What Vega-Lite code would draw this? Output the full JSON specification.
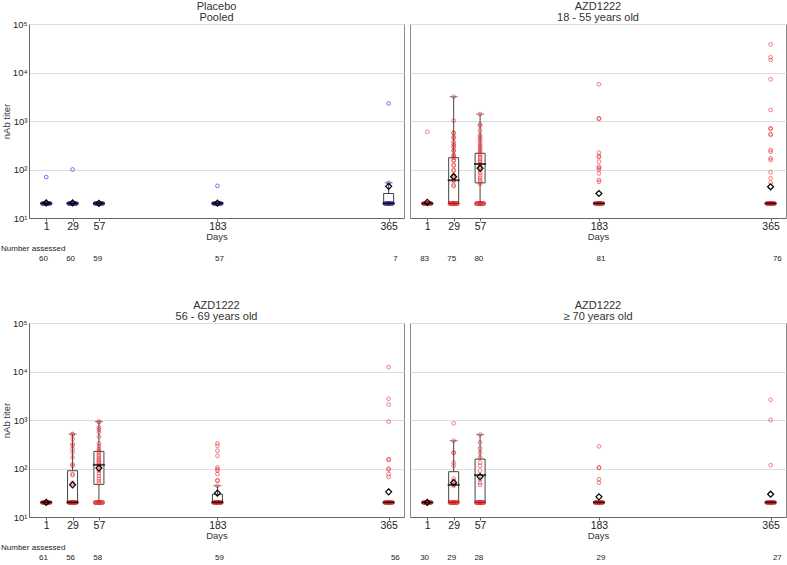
{
"$schema":"https://vega.github.io/schema/vega-lite/v6.json",
"padding":{"left":0,"top":0,"right":2,"bottom":0},
"background":"white",
"config":{
 "font":"Liberation Sans",
 "view":{"stroke":"#8a8a8a"},
 "axis":{"labelColor":"#222","titleColor":"#333","titleFontWeight":"normal","domainColor":"#666","tickColor":"#666","gridColor":"#dddddd","labelFontSize":10,"titleFontSize":9.5},
 "title":{"fontSize":11,"fontWeight":"normal","color":"#333","offset":1,"lineHeight":11}
},
"datasets":{
"sum":[
{"p":1,"d":1,"q1":20,"med":20,"q3":20,"lw":20,"uw":20,"gm":20.5},
{"p":1,"d":29,"q1":20,"med":20,"q3":20,"lw":20,"uw":20,"gm":20.5},
{"p":1,"d":57,"q1":20,"med":20,"q3":20,"lw":20,"uw":20,"gm":20},
{"p":1,"d":183,"q1":20,"med":20,"q3":20,"lw":20,"uw":20,"gm":20.3},
{"p":1,"d":365,"q1":20,"med":20,"q3":32,"lw":20,"uw":53,"gm":45},
{"p":2,"d":1,"q1":20,"med":20,"q3":20,"lw":20,"uw":20,"gm":21},
{"p":2,"d":29,"q1":20,"med":60,"q3":175,"lw":20,"uw":3170,"gm":71},
{"p":2,"d":57,"q1":53,"med":130,"q3":216,"lw":20,"uw":1390,"gm":106},
{"p":2,"d":183,"q1":20,"med":20,"q3":20,"lw":20,"uw":20,"gm":32},
{"p":2,"d":365,"q1":20,"med":20,"q3":20,"lw":20,"uw":20,"gm":44},
{"p":3,"d":1,"q1":20,"med":20,"q3":20,"lw":20,"uw":20,"gm":20},
{"p":3,"d":29,"q1":20,"med":20,"q3":90,"lw":20,"uw":515,"gm":46},
{"p":3,"d":57,"q1":47,"med":119,"q3":225,"lw":20,"uw":927,"gm":102},
{"p":3,"d":183,"q1":20,"med":20,"q3":29.5,"lw":20,"uw":44,"gm":31},
{"p":3,"d":365,"q1":20,"med":20,"q3":20,"lw":20,"uw":20,"gm":33},
{"p":4,"d":1,"q1":20,"med":20,"q3":20,"lw":20,"uw":20,"gm":20},
{"p":4,"d":29,"q1":20,"med":46,"q3":86,"lw":20,"uw":374,"gm":51},
{"p":4,"d":57,"q1":20,"med":73,"q3":156,"lw":20,"uw":499,"gm":68},
{"p":4,"d":183,"q1":20,"med":20,"q3":20,"lw":20,"uw":20,"gm":26},
{"p":4,"d":365,"q1":20,"med":20,"q3":20,"lw":20,"uw":20,"gm":29.5}
],
"cnt":[
{"p":1,"d":1,"n":60},{"p":1,"d":29,"n":60},{"p":1,"d":57,"n":59},{"p":1,"d":183,"n":57},{"p":1,"d":365,"n":7},
{"p":2,"d":1,"n":83},{"p":2,"d":29,"n":75},{"p":2,"d":57,"n":80},{"p":2,"d":183,"n":81},{"p":2,"d":365,"n":76},
{"p":3,"d":1,"n":61},{"p":3,"d":29,"n":56},{"p":3,"d":57,"n":58},{"p":3,"d":183,"n":59},{"p":3,"d":365,"n":56},
{"p":4,"d":1,"n":30},{"p":4,"d":29,"n":29},{"p":4,"d":57,"n":28},{"p":4,"d":183,"n":29},{"p":4,"d":365,"n":27}
],
"pts":[
{"p":1,"d":1,"v":20},{"p":1,"d":1,"v":70},
{"p":1,"d":29,"v":20},{"p":1,"d":29,"v":100},
{"p":1,"d":57,"v":20},
{"p":1,"d":183,"v":20},{"p":1,"d":183,"v":46},
{"p":1,"d":365,"v":20},{"p":1,"d":365,"v":53},{"p":1,"d":365,"v":2300},
{"p":2,"d":1,"v":20},{"p":2,"d":1,"v":600},
{"p":2,"d":29,"v":20},{"p":2,"d":29,"v":3170},{"p":2,"d":29,"v":1014},{"p":2,"d":29,"v":574},{"p":2,"d":29,"v":560},{"p":2,"d":29,"v":474},{"p":2,"d":29,"v":450},{"p":2,"d":29,"v":374},{"p":2,"d":29,"v":340},{"p":2,"d":29,"v":310},{"p":2,"d":29,"v":290},{"p":2,"d":29,"v":252},{"p":2,"d":29,"v":240},{"p":2,"d":29,"v":199},{"p":2,"d":29,"v":190},{"p":2,"d":29,"v":175},{"p":2,"d":29,"v":157},{"p":2,"d":29,"v":150},{"p":2,"d":29,"v":124},{"p":2,"d":29,"v":120},{"p":2,"d":29,"v":98},{"p":2,"d":29,"v":95},{"p":2,"d":29,"v":77},{"p":2,"d":29,"v":70},{"p":2,"d":29,"v":61},{"p":2,"d":29,"v":58},{"p":2,"d":29,"v":48},{"p":2,"d":29,"v":45},
{"p":2,"d":57,"v":20},{"p":2,"d":57,"v":1390},{"p":2,"d":57,"v":855},{"p":2,"d":57,"v":800},{"p":2,"d":57,"v":640},{"p":2,"d":57,"v":520},{"p":2,"d":57,"v":470},{"p":2,"d":57,"v":430},{"p":2,"d":57,"v":380},{"p":2,"d":57,"v":340},{"p":2,"d":57,"v":310},{"p":2,"d":57,"v":280},{"p":2,"d":57,"v":260},{"p":2,"d":57,"v":240},{"p":2,"d":57,"v":215},{"p":2,"d":57,"v":200},{"p":2,"d":57,"v":180},{"p":2,"d":57,"v":165},{"p":2,"d":57,"v":150},{"p":2,"d":57,"v":140},{"p":2,"d":57,"v":130},{"p":2,"d":57,"v":125},{"p":2,"d":57,"v":115},{"p":2,"d":57,"v":105},{"p":2,"d":57,"v":95},{"p":2,"d":57,"v":85},{"p":2,"d":57,"v":75},{"p":2,"d":57,"v":68},{"p":2,"d":57,"v":60},{"p":2,"d":57,"v":55},{"p":2,"d":57,"v":50},
{"p":2,"d":183,"v":20},{"p":2,"d":183,"v":5710},{"p":2,"d":183,"v":1137},{"p":2,"d":183,"v":1100},{"p":2,"d":183,"v":222},{"p":2,"d":183,"v":190},{"p":2,"d":183,"v":180},{"p":2,"d":183,"v":145},{"p":2,"d":183,"v":114},{"p":2,"d":183,"v":108},{"p":2,"d":183,"v":100},{"p":2,"d":183,"v":83},{"p":2,"d":183,"v":61},{"p":2,"d":183,"v":56},
{"p":2,"d":365,"v":20},{"p":2,"d":365,"v":38000},{"p":2,"d":365,"v":20600},{"p":2,"d":365,"v":18100},{"p":2,"d":365,"v":7240},{"p":2,"d":365,"v":1690},{"p":2,"d":365,"v":706},{"p":2,"d":365,"v":690},{"p":2,"d":365,"v":540},{"p":2,"d":365,"v":520},{"p":2,"d":365,"v":252},{"p":2,"d":365,"v":233},{"p":2,"d":365,"v":170},{"p":2,"d":365,"v":157},{"p":2,"d":365,"v":87.5},{"p":2,"d":365,"v":65.8},{"p":2,"d":365,"v":53.5},
{"p":3,"d":1,"v":20},
{"p":3,"d":29,"v":20},{"p":3,"d":29,"v":515},{"p":3,"d":29,"v":500},{"p":3,"d":29,"v":406},{"p":3,"d":29,"v":320},{"p":3,"d":29,"v":295},{"p":3,"d":29,"v":252},{"p":3,"d":29,"v":215},{"p":3,"d":29,"v":169},{"p":3,"d":29,"v":123},{"p":3,"d":29,"v":114},{"p":3,"d":29,"v":77},{"p":3,"d":29,"v":73},{"p":3,"d":29,"v":51},{"p":3,"d":29,"v":48},
{"p":3,"d":57,"v":20},{"p":3,"d":57,"v":927},{"p":3,"d":57,"v":900},{"p":3,"d":57,"v":700},{"p":3,"d":57,"v":640},{"p":3,"d":57,"v":560},{"p":3,"d":57,"v":450},{"p":3,"d":57,"v":330},{"p":3,"d":57,"v":290},{"p":3,"d":57,"v":250},{"p":3,"d":57,"v":230},{"p":3,"d":57,"v":210},{"p":3,"d":57,"v":190},{"p":3,"d":57,"v":175},{"p":3,"d":57,"v":160},{"p":3,"d":57,"v":150},{"p":3,"d":57,"v":140},{"p":3,"d":57,"v":130},{"p":3,"d":57,"v":120},{"p":3,"d":57,"v":110},{"p":3,"d":57,"v":100},{"p":3,"d":57,"v":90},{"p":3,"d":57,"v":80},{"p":3,"d":57,"v":70},{"p":3,"d":57,"v":62},{"p":3,"d":57,"v":55},{"p":3,"d":57,"v":50},
{"p":3,"d":183,"v":20},{"p":3,"d":183,"v":330},{"p":3,"d":183,"v":295},{"p":3,"d":183,"v":232},{"p":3,"d":183,"v":183},{"p":3,"d":183,"v":105},{"p":3,"d":183,"v":97},{"p":3,"d":183,"v":90},{"p":3,"d":183,"v":77},{"p":3,"d":183,"v":57},{"p":3,"d":183,"v":56},{"p":3,"d":183,"v":44},
{"p":3,"d":365,"v":20},{"p":3,"d":365,"v":12300},{"p":3,"d":365,"v":2730},{"p":3,"d":365,"v":2080},{"p":3,"d":365,"v":927},{"p":3,"d":365,"v":156},{"p":3,"d":365,"v":150},{"p":3,"d":365,"v":100},{"p":3,"d":365,"v":95},{"p":3,"d":365,"v":77},{"p":3,"d":365,"v":67},
{"p":4,"d":1,"v":20},
{"p":4,"d":29,"v":20},{"p":4,"d":29,"v":855},{"p":4,"d":29,"v":374},{"p":4,"d":29,"v":214},{"p":4,"d":29,"v":210},{"p":4,"d":29,"v":133},{"p":4,"d":29,"v":114},{"p":4,"d":29,"v":62},{"p":4,"d":29,"v":56},{"p":4,"d":29,"v":51},{"p":4,"d":29,"v":46},{"p":4,"d":29,"v":44},
{"p":4,"d":57,"v":20},{"p":4,"d":57,"v":499},{"p":4,"d":57,"v":345},{"p":4,"d":57,"v":259},{"p":4,"d":57,"v":214},{"p":4,"d":57,"v":169},{"p":4,"d":57,"v":133},{"p":4,"d":57,"v":114},{"p":4,"d":57,"v":90},{"p":4,"d":57,"v":60},{"p":4,"d":57,"v":51},{"p":4,"d":57,"v":46},
{"p":4,"d":183,"v":20},{"p":4,"d":183,"v":286},{"p":4,"d":183,"v":105},{"p":4,"d":183,"v":103},{"p":4,"d":183,"v":60},{"p":4,"d":183,"v":51},
{"p":4,"d":365,"v":20},{"p":4,"d":365,"v":2600},{"p":4,"d":365,"v":1005},{"p":4,"d":365,"v":117}
]
},
"spacing":35,
"vconcat":[
{"spacing":4,"hconcat":[
 {"spacing":36,"bounds":"flush","vconcat":[
  {"width":375,"height":194,"title":{"text":["Placebo","Pooled"],"offset":-4},
   "encoding":{"x":{"field":"d","type":"quantitative","scale":{"domain":[-12,376],"nice":false,"zero":false},"axis":{"title":"Days","values":[1,29,57,183,365],"grid":false,"tickSize":3,"labelPadding":0,"titlePadding":0,"labelFontSize":10.5,"labelFlush":false}}},
   "layer":[
    {"data":{"name":"sum"},"transform":[{"filter":"datum.p==1"}],"mark":{"type":"rule","color":"#444"},"encoding":{"y":{"field":"lw","type":"quantitative","scale":{"type":"log","domain":[10,100000],"nice":false},"axis":{"title":"nAb titer","values":[10,100,1000,10000,100000],"labelExpr":"datum.value==10?'10¹':datum.value==100?'10²':datum.value==1000?'10³':datum.value==10000?'10⁴':'10⁵'","grid":true,"ticks":false,"labelPadding":2,"titlePadding":1,"labelFontSize":9.5}},"y2":{"field":"uw"}}},
    {"data":{"name":"sum"},"transform":[{"filter":"datum.p==1"}],"mark":{"type":"bar","width":10,"fill":"white","stroke":"#444","strokeWidth":1},"encoding":{"y":{"field":"q1","type":"quantitative","scale":{"type":"log","domain":[10,100000],"nice":false}},"y2":{"field":"q3"}}},
    {"data":{"name":"sum"},"transform":[{"filter":"datum.p==1 && datum.uw>datum.q3"}],"mark":{"type":"tick","orient":"horizontal","size":8,"thickness":1,"color":"#444"},"encoding":{"y":{"field":"uw","type":"quantitative","scale":{"type":"log","domain":[10,100000],"nice":false}}}},
    {"data":{"name":"pts"},"transform":[{"filter":"datum.p==1"}],"mark":{"type":"point","shape":"circle","filled":false,"size":14,"strokeWidth":1,"color":"#3535ff","opacity":0.7},"encoding":{"y":{"field":"v","type":"quantitative","scale":{"type":"log","domain":[10,100000],"nice":false}}}},
    {"data":{"name":"sum"},"transform":[{"filter":"datum.p==1"}],"mark":{"type":"tick","orient":"horizontal","size":12,"thickness":5,"cornerRadius":2.5,"color":"#14148c"},"encoding":{"y":{"field":"lw","type":"quantitative","scale":{"type":"log","domain":[10,100000],"nice":false}}}},
    {"data":{"name":"sum"},"transform":[{"filter":"datum.p==1"}],"mark":{"type":"tick","orient":"horizontal","size":12,"thickness":2,"color":"black"},"encoding":{"y":{"field":"med","type":"quantitative","scale":{"type":"log","domain":[10,100000],"nice":false}}}},
    {"data":{"name":"sum"},"transform":[{"filter":"datum.p==1"}],"mark":{"type":"point","shape":"diamond","filled":false,"size":36,"strokeWidth":1.2,"color":"black","opacity":1},"encoding":{"y":{"field":"gm","type":"quantitative","scale":{"type":"log","domain":[10,100000],"nice":false}}}}
   ]},
  {"width":375,"height":10,"view":{"stroke":null},"data":{"name":"cnt"},"transform":[{"filter":"datum.p==1"}],
   "title":{"text":"Number assessed","anchor":"start","dx":-28,"fontSize":8,"offset":1,"color":"#222"},
   "mark":{"type":"text","fontSize":8,"color":"#222","dx":2},
   "encoding":{"x":{"field":"d","type":"quantitative","scale":{"domain":[-12,376],"nice":false,"zero":false},"axis":null},"text":{"field":"n"}}}
 ]},
 {"spacing":36,"bounds":"flush","vconcat":[
  {"width":376,"height":194,"title":{"text":["AZD1222","18 - 55 years old"]},
   "encoding":{"x":{"field":"d","type":"quantitative","scale":{"domain":[-12,376],"nice":false,"zero":false},"axis":{"title":"Days","values":[1,29,57,183,365],"grid":false,"tickSize":3,"labelPadding":0,"titlePadding":0,"labelFontSize":10.5,"labelFlush":false}}},
   "layer":[
    {"data":{"name":"sum"},"transform":[{"filter":"datum.p==2"}],"mark":{"type":"rule","color":"#444"},"encoding":{"y":{"field":"lw","type":"quantitative","scale":{"type":"log","domain":[10,100000],"nice":false},"axis":{"title":null,"values":[10,100,1000,10000,100000],"grid":true,"labels":false,"ticks":false,"domain":false}},"y2":{"field":"uw"}}},
    {"data":{"name":"sum"},"transform":[{"filter":"datum.p==2"}],"mark":{"type":"bar","width":10,"fill":"white","stroke":"#444","strokeWidth":1},"encoding":{"y":{"field":"q1","type":"quantitative","scale":{"type":"log","domain":[10,100000],"nice":false}},"y2":{"field":"q3"}}},
    {"data":{"name":"sum"},"transform":[{"filter":"datum.p==2 && datum.uw>datum.q3"}],"mark":{"type":"tick","orient":"horizontal","size":8,"thickness":1,"color":"#444"},"encoding":{"y":{"field":"uw","type":"quantitative","scale":{"type":"log","domain":[10,100000],"nice":false}}}},
    {"data":{"name":"pts"},"transform":[{"filter":"datum.p==2"}],"mark":{"type":"point","shape":"circle","filled":false,"size":14,"strokeWidth":1,"color":"#e8262b","opacity":0.6},"encoding":{"y":{"field":"v","type":"quantitative","scale":{"type":"log","domain":[10,100000],"nice":false}}}},
    {"data":{"name":"sum"},"transform":[{"filter":"datum.p==2"}],"mark":{"type":"tick","orient":"horizontal","size":12,"thickness":5,"cornerRadius":2.5,"color":"#d40000"},"encoding":{"y":{"field":"lw","type":"quantitative","scale":{"type":"log","domain":[10,100000],"nice":false}}}},
    {"data":{"name":"sum"},"transform":[{"filter":"datum.p==2"}],"mark":{"type":"tick","orient":"horizontal","size":12,"thickness":2,"color":"black"},"encoding":{"y":{"field":"med","type":"quantitative","scale":{"type":"log","domain":[10,100000],"nice":false}}}},
    {"data":{"name":"sum"},"transform":[{"filter":"datum.p==2"}],"mark":{"type":"point","shape":"diamond","filled":false,"size":36,"strokeWidth":1.2,"color":"black","opacity":1},"encoding":{"y":{"field":"gm","type":"quantitative","scale":{"type":"log","domain":[10,100000],"nice":false}}}}
   ]},
  {"width":376,"height":10,"view":{"stroke":null},"data":{"name":"cnt"},"transform":[{"filter":"datum.p==2"}],
   "mark":{"type":"text","fontSize":8,"color":"#222","dx":2},
   "encoding":{"x":{"field":"d","type":"quantitative","scale":{"domain":[-12,376],"nice":false,"zero":false},"axis":null},"text":{"field":"n"}}}
 ]}
]},
{"spacing":4,"hconcat":[
 {"spacing":36,"bounds":"flush","vconcat":[
  {"width":375,"height":194,"title":{"text":["AZD1222","56 - 69 years old"],"offset":-4},
   "encoding":{"x":{"field":"d","type":"quantitative","scale":{"domain":[-12,376],"nice":false,"zero":false},"axis":{"title":"Days","values":[1,29,57,183,365],"grid":false,"tickSize":3,"labelPadding":0,"titlePadding":0,"labelFontSize":10.5,"labelFlush":false}}},
   "layer":[
    {"data":{"name":"sum"},"transform":[{"filter":"datum.p==3"}],"mark":{"type":"rule","color":"#444"},"encoding":{"y":{"field":"lw","type":"quantitative","scale":{"type":"log","domain":[10,100000],"nice":false},"axis":{"title":"nAb titer","values":[10,100,1000,10000,100000],"labelExpr":"datum.value==10?'10¹':datum.value==100?'10²':datum.value==1000?'10³':datum.value==10000?'10⁴':'10⁵'","grid":true,"ticks":false,"labelPadding":2,"titlePadding":1,"labelFontSize":9.5}},"y2":{"field":"uw"}}},
    {"data":{"name":"sum"},"transform":[{"filter":"datum.p==3"}],"mark":{"type":"bar","width":10,"fill":"white","stroke":"#444","strokeWidth":1},"encoding":{"y":{"field":"q1","type":"quantitative","scale":{"type":"log","domain":[10,100000],"nice":false}},"y2":{"field":"q3"}}},
    {"data":{"name":"sum"},"transform":[{"filter":"datum.p==3 && datum.uw>datum.q3"}],"mark":{"type":"tick","orient":"horizontal","size":8,"thickness":1,"color":"#444"},"encoding":{"y":{"field":"uw","type":"quantitative","scale":{"type":"log","domain":[10,100000],"nice":false}}}},
    {"data":{"name":"pts"},"transform":[{"filter":"datum.p==3"}],"mark":{"type":"point","shape":"circle","filled":false,"size":14,"strokeWidth":1,"color":"#e8262b","opacity":0.6},"encoding":{"y":{"field":"v","type":"quantitative","scale":{"type":"log","domain":[10,100000],"nice":false}}}},
    {"data":{"name":"sum"},"transform":[{"filter":"datum.p==3"}],"mark":{"type":"tick","orient":"horizontal","size":12,"thickness":5,"cornerRadius":2.5,"color":"#d40000"},"encoding":{"y":{"field":"lw","type":"quantitative","scale":{"type":"log","domain":[10,100000],"nice":false}}}},
    {"data":{"name":"sum"},"transform":[{"filter":"datum.p==3"}],"mark":{"type":"tick","orient":"horizontal","size":12,"thickness":2,"color":"black"},"encoding":{"y":{"field":"med","type":"quantitative","scale":{"type":"log","domain":[10,100000],"nice":false}}}},
    {"data":{"name":"sum"},"transform":[{"filter":"datum.p==3"}],"mark":{"type":"point","shape":"diamond","filled":false,"size":36,"strokeWidth":1.2,"color":"black","opacity":1},"encoding":{"y":{"field":"gm","type":"quantitative","scale":{"type":"log","domain":[10,100000],"nice":false}}}}
   ]},
  {"width":375,"height":10,"view":{"stroke":null},"data":{"name":"cnt"},"transform":[{"filter":"datum.p==3"}],
   "title":{"text":"Number assessed","anchor":"start","dx":-28,"fontSize":8,"offset":1,"color":"#222"},
   "mark":{"type":"text","fontSize":8,"color":"#222","dx":2},
   "encoding":{"x":{"field":"d","type":"quantitative","scale":{"domain":[-12,376],"nice":false,"zero":false},"axis":null},"text":{"field":"n"}}}
 ]},
 {"spacing":36,"bounds":"flush","vconcat":[
  {"width":376,"height":194,"title":{"text":["AZD1222","≥ 70 years old"]},
   "encoding":{"x":{"field":"d","type":"quantitative","scale":{"domain":[-12,376],"nice":false,"zero":false},"axis":{"title":"Days","values":[1,29,57,183,365],"grid":false,"tickSize":3,"labelPadding":0,"titlePadding":0,"labelFontSize":10.5,"labelFlush":false}}},
   "layer":[
    {"data":{"name":"sum"},"transform":[{"filter":"datum.p==4"}],"mark":{"type":"rule","color":"#444"},"encoding":{"y":{"field":"lw","type":"quantitative","scale":{"type":"log","domain":[10,100000],"nice":false},"axis":{"title":null,"values":[10,100,1000,10000,100000],"grid":true,"labels":false,"ticks":false,"domain":false}},"y2":{"field":"uw"}}},
    {"data":{"name":"sum"},"transform":[{"filter":"datum.p==4"}],"mark":{"type":"bar","width":10,"fill":"white","stroke":"#444","strokeWidth":1},"encoding":{"y":{"field":"q1","type":"quantitative","scale":{"type":"log","domain":[10,100000],"nice":false}},"y2":{"field":"q3"}}},
    {"data":{"name":"sum"},"transform":[{"filter":"datum.p==4 && datum.uw>datum.q3"}],"mark":{"type":"tick","orient":"horizontal","size":8,"thickness":1,"color":"#444"},"encoding":{"y":{"field":"uw","type":"quantitative","scale":{"type":"log","domain":[10,100000],"nice":false}}}},
    {"data":{"name":"pts"},"transform":[{"filter":"datum.p==4"}],"mark":{"type":"point","shape":"circle","filled":false,"size":14,"strokeWidth":1,"color":"#e8262b","opacity":0.6},"encoding":{"y":{"field":"v","type":"quantitative","scale":{"type":"log","domain":[10,100000],"nice":false}}}},
    {"data":{"name":"sum"},"transform":[{"filter":"datum.p==4"}],"mark":{"type":"tick","orient":"horizontal","size":12,"thickness":5,"cornerRadius":2.5,"color":"#d40000"},"encoding":{"y":{"field":"lw","type":"quantitative","scale":{"type":"log","domain":[10,100000],"nice":false}}}},
    {"data":{"name":"sum"},"transform":[{"filter":"datum.p==4"}],"mark":{"type":"tick","orient":"horizontal","size":12,"thickness":2,"color":"black"},"encoding":{"y":{"field":"med","type":"quantitative","scale":{"type":"log","domain":[10,100000],"nice":false}}}},
    {"data":{"name":"sum"},"transform":[{"filter":"datum.p==4"}],"mark":{"type":"point","shape":"diamond","filled":false,"size":36,"strokeWidth":1.2,"color":"black","opacity":1},"encoding":{"y":{"field":"gm","type":"quantitative","scale":{"type":"log","domain":[10,100000],"nice":false}}}}
   ]},
  {"width":376,"height":10,"view":{"stroke":null},"data":{"name":"cnt"},"transform":[{"filter":"datum.p==4"}],
   "mark":{"type":"text","fontSize":8,"color":"#222","dx":2},
   "encoding":{"x":{"field":"d","type":"quantitative","scale":{"domain":[-12,376],"nice":false,"zero":false},"axis":null},"text":{"field":"n"}}}
 ]}
]}
]
}
